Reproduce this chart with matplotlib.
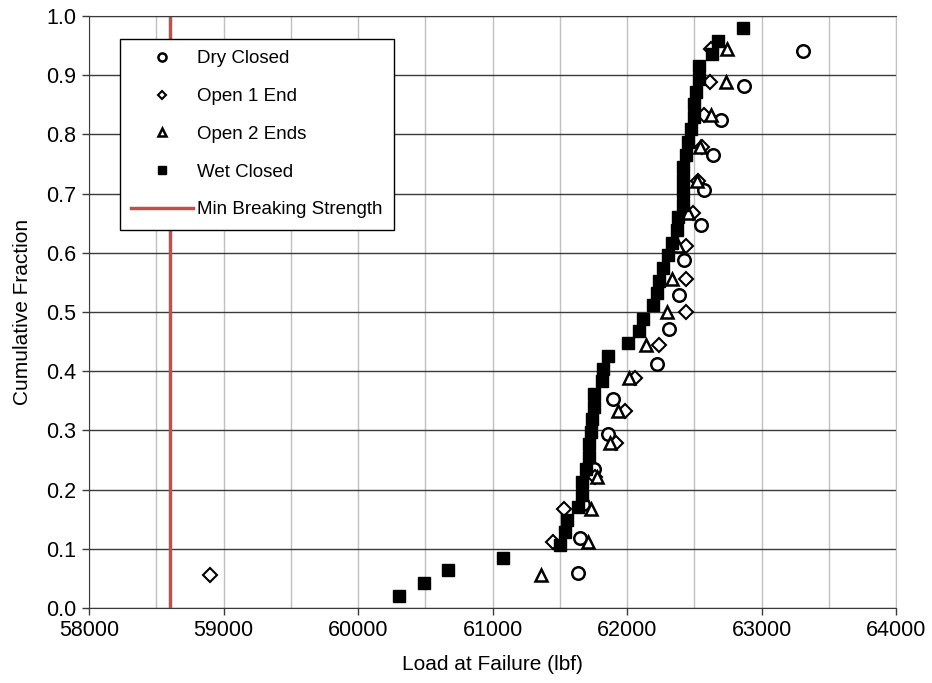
import numpy as np
import matplotlib
matplotlib.use('Agg')
import matplotlib.pyplot as plt
from matplotlib.ticker import MultipleLocator

plt.rcParams['font.family'] = ['Liberation Sans', 'DejaVu Sans']

# Load at failure (lbf) and cumulative fraction for each test group
dry_load = [61633, 61648, 61673, 61755, 61861, 61898, 62221, 62314, 62389, 62426,
            62550, 62575, 62636, 62701, 62872, 63308]
dry_frac = [0.059, 0.118, 0.176, 0.235, 0.294, 0.353, 0.412, 0.471, 0.529, 0.588,
            0.647, 0.706, 0.765, 0.824, 0.882, 0.941]

open1_load = [58900, 61452, 61534, 61765, 61918, 61985, 62059, 62240, 62439, 62439,
              62439, 62493, 62530, 62560, 62575, 62615, 62621]
open1_frac = [0.056, 0.111, 0.167, 0.222, 0.278, 0.333, 0.389, 0.444, 0.500, 0.556,
              0.611, 0.667, 0.722, 0.778, 0.833, 0.889, 0.944]

open2_load = [61361, 61712, 61732, 61774, 61874, 61935, 62017, 62141, 62300, 62337,
              62382, 62456, 62523, 62543, 62621, 62733, 62741]
open2_frac = [0.056, 0.111, 0.167, 0.222, 0.278, 0.333, 0.389, 0.444, 0.500, 0.556,
              0.611, 0.667, 0.722, 0.778, 0.833, 0.889, 0.944]

wet_load = [60305, 60493, 60669, 61076, 61504, 61539, 61552, 61638, 61668, 61668,
            61695, 61717, 61717, 61732, 61737, 61757, 61757, 61815, 61818, 61861,
            62010, 62092, 62117, 62191, 62221, 62238, 62270, 62307, 62332, 62370,
            62382, 62413, 62413, 62419, 62419, 62436, 62456, 62476, 62500, 62500,
            62510, 62535, 62535, 62629, 62679, 62860]
wet_frac = [0.021, 0.043, 0.064, 0.085, 0.106, 0.128, 0.149, 0.170, 0.191, 0.213,
            0.234, 0.255, 0.277, 0.298, 0.319, 0.340, 0.362, 0.383, 0.404, 0.426,
            0.447, 0.468, 0.489, 0.511, 0.532, 0.553, 0.574, 0.596, 0.617, 0.638,
            0.660, 0.681, 0.702, 0.723, 0.745, 0.766, 0.787, 0.809, 0.830, 0.851,
            0.872, 0.894, 0.915, 0.936, 0.957, 0.979]

min_strength = 58600
min_line_y = [0.0, 1.0]

fig = plt.figure(figsize=(9.32, 6.83), dpi=100)
ax = fig.add_axes([89/932, 1 - 608/683, 807/932, 592/683])

# grid: dark horizontal lines, light vertical lines
ax.yaxis.set_major_locator(MultipleLocator(0.1))
ax.xaxis.set_major_locator(MultipleLocator(1000))
ax.xaxis.set_minor_locator(MultipleLocator(500))
ax.grid(axis='y', which='major', color='#3a3a3a', linewidth=1.0)
ax.grid(axis='x', which='both', color='#c0c0c0', linewidth=1.0)
ax.set_axisbelow(True)

# data series
ax.plot(dry_load, dry_frac, 'o', ms=9, mfc='white', mec='black', mew=1.8, label='Dry Closed')
ax.plot(open1_load, open1_frac, 'D', ms=7, mfc='white', mec='black', mew=1.5, label='Open 1 End')
ax.plot(open2_load, open2_frac, '^', ms=9, mfc='white', mec='black', mew=1.8, label='Open 2 Ends')
ax.plot(wet_load, wet_frac, 's', ms=8.2, mfc='black', mec='black', label='Wet Closed')
ax.plot([min_strength, min_strength], min_line_y, '-', color='#C0504D', lw=2.5,
        label='Min Breaking Strength')

ax.set_xlim(58000, 64000)
ax.set_ylim(0.0, 1.0)
ax.set_yticks(np.arange(0, 1.01, 0.1))
ax.set_yticklabels(['%.1f' % v for v in np.arange(0, 1.01, 0.1)])
ax.tick_params(axis='both', which='major', labelsize=15.5, direction='out', length=5, width=1,
               color='#3a3a3a', pad=4)
ax.tick_params(axis='x', which='minor', length=0)

for side in ['left', 'bottom', 'top']:
    ax.spines[side].set_color('#3a3a3a')
ax.spines['right'].set_color('#c0c0c0')

ax.set_xlabel('Load at Failure (lbf)', fontsize=15, labelpad=10)
ax.set_ylabel('Cumulative Fraction', fontsize=15, labelpad=10)

leg = ax.legend(loc='upper left', bbox_to_anchor=(0.038, 0.961), fontsize=13.5,
                frameon=True, fancybox=False, borderpad=0.6, labelspacing=1.1,
                handlelength=3.3, handletextpad=0.25, markerscale=0.65,
                borderaxespad=0.0, framealpha=1.0)
leg.get_frame().set_edgecolor('black')
leg.get_frame().set_linewidth(1.0)

plt.savefig('out.png', dpi=100)
